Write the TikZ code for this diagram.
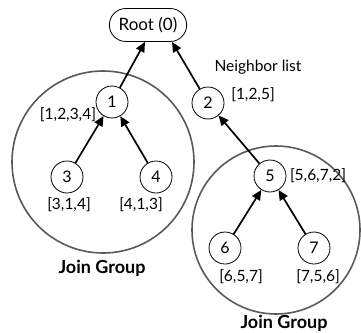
\documentclass[tikz,border=0pt]{standalone}
\usepackage{fontspec}
\setmainfont{Lato}
\usetikzlibrary{arrows.meta,calc,shapes.misc}
\begin{document}
\begin{tikzpicture}[x=1pt,y=-1pt,
  vert/.style={circle,draw,line width=0.8pt,minimum size=32pt,inner sep=0pt,font=\fontsize{16}{18}\selectfont},
  grp/.style={circle,draw=black!65,line width=1.6pt,inner sep=0pt},
  lbl/.style={font=\fontsize{15.5}{17}\selectfont,inner sep=0pt},
  jg/.style={font=\bfseries\fontsize{18}{20}\selectfont,inner sep=0pt},
  arr/.style={line width=1.7pt,-{Triangle[length=10pt,width=9pt]}}]
\useasboundingbox (0,0) rectangle (361,332);
\node[grp,minimum size=182pt] (gl) at (103,162) {};
\node[grp,minimum size=168pt] (gr) at (276,230) {};
\node[rounded rectangle,draw,line width=0.8pt,minimum width=84pt,minimum height=33pt,font=\fontsize{17}{19}\selectfont] (root) at (148,25) {Root (0)};
\node[vert] (n1) at (112,102) {1};
\node[vert] (n2) at (208,103) {2};
\node[vert] (n3) at (67,177) {3};
\node[vert] (n4) at (156,177) {4};
\node[vert] (n5) at (270,176) {5};
\node[vert] (n6) at (225,248) {6};
\node[vert] (n7) at (314,248) {7};
\node[lbl] (nl) at (258,67) {Neighbor list};
\node[lbl] (l2) at (253,95) {[1,2,5]};
\node[lbl] (l1) at (68,115) {[1,2,3,4]};
\node[lbl] (l3) at (69,205) {[3,1,4]};
\node[lbl] (l4) at (141,205) {[4,1,3]};
\node[lbl] (l5) at (318,176) {[5,6,7,2]};
\node[lbl] (l6) at (241,277) {[6,5,7]};
\node[lbl] (l7) at (318,277) {[7,5,6]};
\node[jg] (jl) at (102,268) {Join Group};
\node[jg] (jr) at (284,323) {Join Group};
\coordinate (r1) at ($(root.south)+(-3,0)$);
\coordinate (r2) at ($(root.south)+(24,0)$);
\draw[arr] (n1) -- (r1);
\draw[arr] (n2) -- (r2);
\draw[arr] (n3) -- (n1);
\draw[arr] (n4) -- (n1);
\draw[arr] (n5) -- (n2);
\draw[arr] (n6) -- (n5);
\draw[arr] (n7) -- (n5);
\end{tikzpicture}
\end{document}
